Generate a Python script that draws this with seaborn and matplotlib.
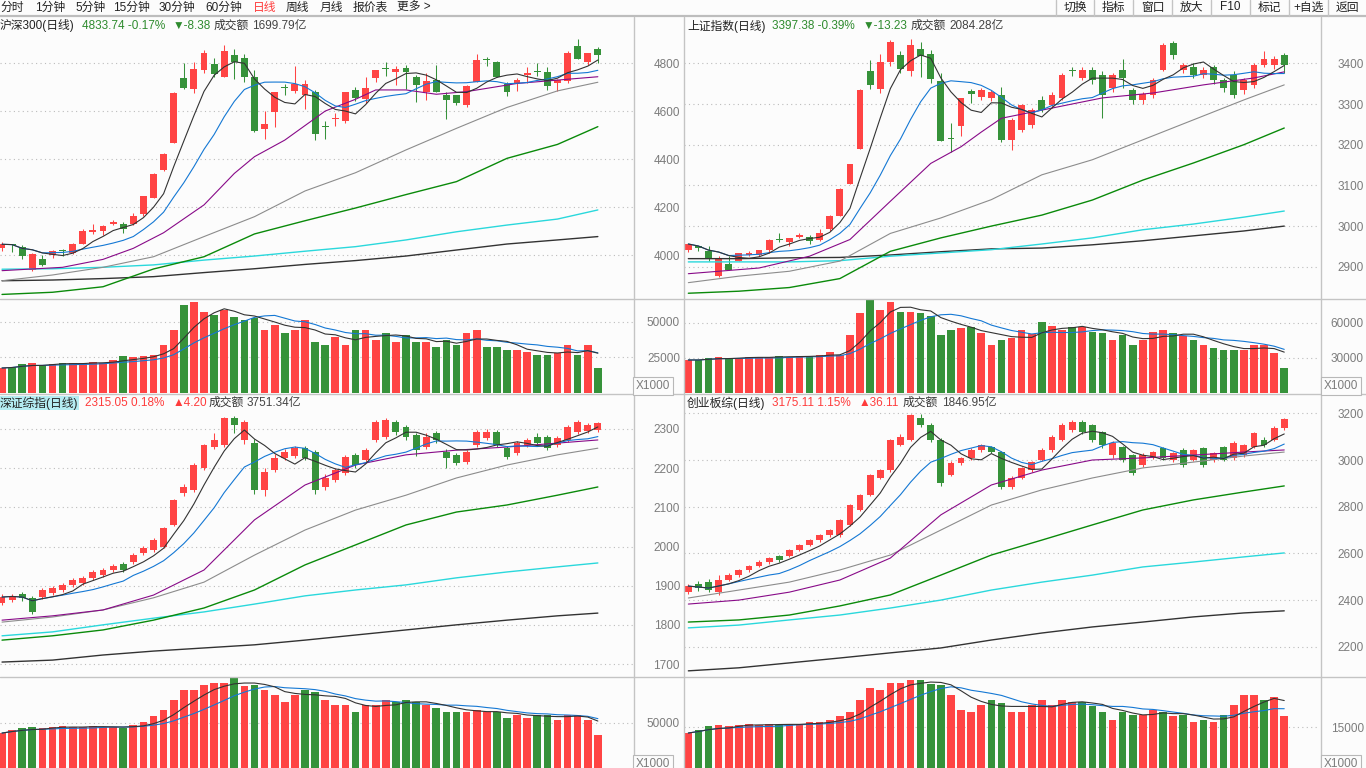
import numpy as np
import pandas as pd
import seaborn as sns
import matplotlib.pyplot as plt
from matplotlib.lines import Line2D

sns.set_theme(style='white')
plt.rcParams['font.family'] = ['Liberation Sans', 'Noto Sans CJK SC', 'DejaVu Sans']

W, H = 1366, 768
BG = '#fcfcfc'
RED = '#ff4444'
GREEN = '#36923a'
TXT_GREEN = '#2e8b2e'
TXT_RED = '#ff3c3c'
LINE = '#c4c4c4'

# ---------------- data ----------------
ma_idx = [0, 5, 10, 15, 20, 25, 30, 35, 40, 45, 50, 55, 59]

# 沪深300
hs300_open = [4029, 4045, 4033, 3939, 3983, 4000, 4020, 4011, 4048, 4096,
              4103, 4130, 4130, 4130, 4171, 4240, 4355, 4469, 4739, 4693,
              4772, 4798, 4744, 4835, 4822, 4743, 4526, 4599, 4697, 4685,
              4668, 4680, 4537, 4569, 4561, 4687, 4653, 4737, 4779, 4765,
              4779, 4744, 4680, 4730, 4666, 4666, 4626, 4724, 4814, 4805,
              4712, 4719, 4751, 4767, 4764, 4719, 4726, 4872, 4805, 4860]
hs300_high = [4057, 4046, 4043, 4011, 4000, 4022, 4026, 4051, 4108, 4130,
              4128, 4147, 4139, 4176, 4249, 4343, 4425, 4680, 4800, 4805,
              4855, 4822, 4876, 4860, 4839, 4772, 4600, 4680, 4712, 4789,
              4730, 4689, 4561, 4592, 4680, 4703, 4744, 4772, 4805, 4789,
              4794, 4751, 4761, 4793, 4680, 4666, 4710, 4839, 4828, 4810,
              4724, 4737, 4786, 4800, 4783, 4733, 4853, 4901, 4842, 4867]
hs300_low = [4019, 4015, 3983, 3935, 3957, 3990, 3997, 4007, 4048, 4089,
             4083, 4126, 4094, 4128, 4165, 4240, 4353, 4469, 4692, 4675,
             4761, 4744, 4744, 4735, 4724, 4515, 4486, 4536, 4667, 4675,
             4611, 4480, 4486, 4539, 4553, 4644, 4633, 4724, 4748, 4710,
             4691, 4640, 4647, 4680, 4569, 4628, 4619, 4724, 4789, 4742,
             4664, 4685, 4716, 4747, 4689, 4683, 4719, 4818, 4792, 4800]
hs300_close = [4046, 4043, 3998, 4005, 3958, 4016, 4018, 4047, 4101, 4105,
               4122, 4140, 4111, 4164, 4247, 4339, 4422, 4675, 4697, 4776,
               4844, 4757, 4851, 4804, 4744, 4518, 4547, 4680, 4695, 4714,
               4714, 4505, 4535, 4571, 4680, 4655, 4697, 4772, 4777, 4776,
               4765, 4710, 4726, 4680, 4647, 4633, 4705, 4814, 4812, 4742,
               4680, 4730, 4758, 4765, 4707, 4730, 4844, 4818, 4842, 4834]
hs300_vol = [17500, 18200, 20300, 21000, 19600, 20300, 21000, 21000, 21000, 21700,
             21000, 23100, 25900, 25200, 25900, 26600, 33600, 44100, 61600, 63700,
             56700, 54600, 58100, 53200, 51100, 52500, 44100, 47600, 42000, 44100,
             51100, 35700, 33600, 39200, 33600, 44100, 44100, 37100, 42000, 35700,
             40600, 35700, 35700, 32200, 37100, 33600, 42000, 44100, 32200, 32200,
             30100, 30100, 28700, 26600, 26600, 28000, 33600, 26600, 33600, 17500]
hs300_ma20_idx = [0, 6, 10, 13, 16, 20, 23, 25, 28, 32, 35, 37, 40, 43, 46, 51, 55, 59]
hs300_ma20 = [3936, 3950, 3983, 4029, 4094, 4210, 4341, 4411, 4480, 4601,
              4650, 4689, 4689, 4671, 4682, 4716, 4730, 4744]
hs300_ma30 = [3894, 3918, 3950, 3994, 4078, 4161, 4268, 4344, 4439, 4529, 4616, 4685, 4721]
hs300_ma60 = [3837, 3846, 3869, 3943, 3994, 4089, 4144, 4197, 4253, 4307, 4404, 4462, 4536]
hs300_ma120 = [3942, 3944, 3950, 3960, 3980, 3997, 4017, 4036, 4064, 4098, 4126, 4151, 4189]
hs300_ma250 = [3894, 3897, 3903, 3911, 3928, 3944, 3962, 3978, 3997, 4022, 4047, 4064, 4078]

# 上证指数
sh_open = [2941, 2952, 2940, 2877, 2908, 2914, 2930, 2930, 2941, 2968,
           2962, 2974, 2973, 2965, 2992, 3024, 3104, 3189, 3381, 3336,
           3402, 3420, 3382, 3434, 3423, 3357, 3215, 3245, 3331, 3317,
           3315, 3322, 3212, 3236, 3249, 3310, 3297, 3315, 3384, 3365,
           3384, 3371, 3340, 3384, 3334, 3310, 3322, 3384, 3450, 3384,
           3390, 3371, 3390, 3359, 3371, 3334, 3347, 3396, 3396, 3420]
sh_high = [2956, 2952, 2952, 2926, 2926, 2933, 2938, 2942, 2969, 2983,
           2971, 2983, 2977, 2992, 3027, 3093, 3153, 3336, 3408, 3423,
           3457, 3431, 3459, 3452, 3433, 3375, 3253, 3314, 3336, 3339,
           3335, 3342, 3266, 3300, 3290, 3320, 3330, 3375, 3390, 3390,
           3392, 3380, 3376, 3410, 3340, 3330, 3365, 3450, 3455, 3400,
           3400, 3390, 3395, 3365, 3380, 3365, 3400, 3430, 3418, 3425]
sh_low = [2936, 2938, 2914, 2875, 2893, 2914, 2926, 2926, 2934, 2961,
          2952, 2971, 2955, 2963, 2988, 3024, 3104, 3189, 3337, 3328,
          3394, 3375, 3370, 3367, 3351, 3210, 3183, 3222, 3302, 3310,
          3308, 3207, 3187, 3230, 3240, 3280, 3290, 3310, 3370, 3360,
          3350, 3266, 3330, 3340, 3300, 3300, 3315, 3380, 3410, 3375,
          3365, 3365, 3350, 3330, 3315, 3325, 3340, 3390, 3385, 3375]
sh_close = [2956, 2946, 2921, 2922, 2893, 2933, 2934, 2941, 2967, 2966,
            2971, 2979, 2964, 2983, 3026, 3091, 3153, 3335, 3347, 3402,
            3452, 3385, 3445, 3418, 3362, 3210, 3214, 3314, 3324, 3334,
            3329, 3212, 3261, 3298, 3285, 3285, 3322, 3371, 3382, 3384,
            3359, 3322, 3371, 3365, 3310, 3324, 3359, 3445, 3420, 3396,
            3371, 3384, 3359, 3340, 3322, 3359, 3396, 3410, 3411, 3397]
sh_vol = [28300, 28300, 30000, 30900, 30000, 30000, 30900, 30900, 30900, 31700,
          30900, 31700, 31700, 32600, 35100, 32600, 49700, 68600, 79700, 71100,
          78000, 69400, 69400, 68600, 66000, 49700, 54000, 55700, 56600, 51400,
          41100, 45400, 47100, 54000, 50600, 60900, 57400, 54000, 56600, 56600,
          52300, 51400, 45400, 49700, 41100, 45400, 52300, 54000, 51400, 48900,
          45400, 41100, 38600, 36900, 36900, 36900, 41100, 41100, 34300, 21700]
sh_ma20_idx = [0, 7, 12, 16, 20, 24, 27, 29, 31, 36, 41, 46, 51, 56, 59]
sh_ma20 = [2883, 2897, 2926, 2967, 3061, 3154, 3195, 3231, 3265, 3290,
           3315, 3327, 3347, 3364, 3379]
sh_ma30 = [2861, 2877, 2889, 2914, 2982, 3020, 3065, 3126, 3163, 3212, 3261, 3310, 3347]
sh_ma60 = [2835, 2840, 2849, 2871, 2938, 2971, 3000, 3027, 3064, 3113, 3155, 3200, 3241]
sh_ma120 = [2912, 2912, 2912, 2915, 2926, 2934, 2942, 2956, 2971, 2991, 3005, 3022, 3037]
sh_ma250 = [2920, 2920, 2922, 2923, 2929, 2937, 2944, 2946, 2954, 2964, 2976, 2988, 3000]

# 深证综指
sz_open = [1856, 1863, 1879, 1868, 1871, 1881, 1889, 1902, 1907, 1920,
           1927, 1940, 1955, 1960, 1983, 1991, 1999, 2055, 2137, 2144,
           2200, 2254, 2259, 2328, 2272, 2264, 2144, 2195, 2226, 2231,
           2251, 2241, 2152, 2170, 2188, 2234, 2221, 2272, 2280, 2318,
           2305, 2285, 2254, 2290, 2241, 2234, 2216, 2259, 2277, 2292,
           2251, 2239, 2259, 2280, 2280, 2259, 2272, 2292, 2295, 2297]
sz_high = [1878, 1880, 1884, 1874, 1894, 1899, 1907, 1920, 1925, 1940,
           1945, 1956, 1960, 1983, 2001, 2022, 2050, 2122, 2160, 2212,
           2262, 2290, 2330, 2333, 2322, 2275, 2200, 2236, 2250, 2256,
           2256, 2246, 2185, 2200, 2234, 2240, 2251, 2322, 2328, 2323,
           2310, 2290, 2290, 2295, 2250, 2240, 2246, 2297, 2300, 2297,
           2256, 2270, 2277, 2290, 2285, 2282, 2310, 2323, 2315, 2318]
sz_low = [1850, 1858, 1860, 1828, 1866, 1876, 1884, 1897, 1902, 1915,
          1922, 1935, 1934, 1955, 1978, 1986, 1996, 2052, 2130, 2140,
          2195, 2250, 2255, 2290, 2262, 2135, 2130, 2190, 2220, 2225,
          2220, 2135, 2145, 2165, 2183, 2200, 2215, 2266, 2275, 2285,
          2272, 2230, 2250, 2265, 2200, 2208, 2210, 2255, 2272, 2254,
          2224, 2234, 2254, 2259, 2246, 2254, 2267, 2288, 2290, 2292]
sz_close = [1871, 1874, 1868, 1833, 1889, 1894, 1902, 1914, 1920, 1935,
            1940, 1950, 1940, 1978, 1996, 2017, 2047, 2119, 2152, 2208,
            2259, 2272, 2328, 2310, 2318, 2144, 2190, 2226, 2241, 2251,
            2226, 2144, 2175, 2195, 2229, 2208, 2246, 2318, 2323, 2292,
            2280, 2246, 2280, 2272, 2226, 2213, 2241, 2292, 2292, 2259,
            2229, 2264, 2272, 2264, 2251, 2277, 2305, 2318, 2311, 2315]
sz_vol = [38600, 41900, 44100, 45200, 44100, 45200, 46300, 45200, 45200, 46300,
          45200, 45200, 44100, 47400, 50700, 57400, 64000, 75000, 86100, 86100,
          91600, 93800, 93800, 99300, 90500, 91600, 86100, 80600, 72800, 80600,
          86100, 83900, 75000, 69500, 69500, 61800, 69500, 69500, 75000, 72800,
          75000, 72800, 69500, 66200, 61800, 61800, 61800, 64000, 61800, 61800,
          55200, 58500, 55200, 58500, 58500, 52900, 58500, 58500, 52900, 36400]
sz_ma20_idx = ma_idx
sz_ma20 = [1812, 1823, 1838, 1876, 1940, 2068, 2157, 2208, 2234, 2246, 2254, 2264, 2272]
sz_ma30 = [1807, 1820, 1838, 1869, 1909, 1978, 2042, 2093, 2131, 2175, 2208, 2234, 2251]
sz_ma60 = [1761, 1772, 1787, 1812, 1843, 1889, 1953, 2004, 2055, 2088, 2106, 2131, 2152]
sz_ma120 = [1772, 1782, 1800, 1817, 1833, 1853, 1874, 1889, 1902, 1920, 1935, 1948, 1958]
sz_ma250 = [1705, 1710, 1723, 1733, 1741, 1749, 1761, 1774, 1787, 1800, 1812, 1823, 1830]

# 创业板综
cy_open = [2434, 2469, 2477, 2434, 2486, 2507, 2529, 2546, 2563, 2589,
           2589, 2615, 2636, 2657, 2679, 2679, 2722, 2786, 2850, 2923,
           2957, 3064, 3086, 3180, 3150, 3086, 2936, 2987, 3009, 3043,
           3056, 3034, 2884, 2923, 2957, 3000, 3043, 3086, 3128, 3163,
           3150, 3120, 3021, 3056, 3021, 2979, 3013, 3051, 3000, 3043,
           3000, 3051, 3000, 3056, 3009, 3021, 3056, 3086, 3086, 3137]
cy_high = [2470, 2480, 2490, 2507, 2515, 2535, 2552, 2570, 2586, 2595,
           2620, 2642, 2663, 2685, 2706, 2748, 2812, 2856, 2941, 2963,
           3090, 3110, 3196, 3196, 3160, 3095, 2995, 3015, 3050, 3070,
           3060, 3040, 2930, 2972, 2997, 3050, 3105, 3160, 3170, 3170,
           3155, 3125, 3080, 3060, 3025, 3028, 3040, 3056, 3035, 3050,
           3048, 3056, 3035, 3060, 3080, 3070, 3120, 3098, 3145, 3180]
cy_low = [2425, 2440, 2435, 2422, 2480, 2500, 2522, 2540, 2556, 2565,
          2583, 2610, 2630, 2650, 2672, 2672, 2716, 2780, 2845, 2918,
          2950, 3058, 3080, 3140, 3075, 2890, 2930, 2980, 3000, 3035,
          3028, 2876, 2876, 2918, 2950, 2995, 3035, 3080, 3120, 3110,
          3075, 3050, 3010, 2990, 2935, 2970, 3005, 3000, 2990, 2970,
          2995, 2970, 2990, 2995, 3000, 3015, 3050, 3056, 3080, 3130]
cy_close = [2460, 2452, 2443, 2486, 2507, 2529, 2546, 2563, 2580, 2572,
            2615, 2636, 2657, 2679, 2700, 2743, 2807, 2850, 2936, 2957,
            3086, 3098, 3193, 3150, 3086, 2901, 2987, 3009, 3043, 3064,
            3034, 2884, 2923, 2966, 2991, 3043, 3098, 3150, 3163, 3120,
            3086, 3064, 3073, 3000, 2945, 3021, 3034, 3009, 3030, 2979,
            3043, 2979, 3030, 3000, 3073, 3064, 3116, 3064, 3139, 3175]
cy_vol = [12900, 14000, 15500, 15900, 15500, 15900, 16200, 15900, 16200, 15900,
          16200, 16200, 17000, 17000, 17700, 19200, 20600, 25100, 29500, 28700,
          31300, 31300, 32400, 32400, 31000, 30600, 26900, 21400, 20600, 23200,
          25100, 24000, 20600, 20600, 23200, 25100, 23200, 25100, 24300, 24300,
          22900, 20600, 17700, 20600, 19500, 19500, 21400, 20600, 19200, 19500,
          16900, 17700, 16900, 19500, 23200, 26900, 26900, 25100, 26200, 19200]
cy_ma20_idx = ma_idx
cy_ma20 = [2383, 2400, 2434, 2486, 2580, 2765, 2893, 2957, 3000, 3009, 3021, 3034, 3043]
cy_ma30 = [2409, 2443, 2477, 2529, 2593, 2700, 2807, 2872, 2923, 2966, 2991, 3017, 3034]
cy_ma60 = [2306, 2315, 2336, 2375, 2422, 2507, 2593, 2657, 2722, 2786, 2829, 2863, 2889]
cy_ma120 = [2281, 2293, 2315, 2336, 2366, 2400, 2443, 2477, 2507, 2542, 2563, 2585, 2602]
cy_ma250 = [2097, 2110, 2131, 2152, 2174, 2195, 2229, 2259, 2285, 2306, 2328, 2345, 2354]

# ---------------- drawing ----------------
fig = plt.figure(figsize=(W / 100, H / 100), dpi=100, facecolor=BG)


def add_ax(px, py, pw, ph):
    return fig.add_axes([px / W, 1 - (py + ph) / H, pw / W, ph / H])


def fig_line(x0, y0, x1, y1, color=LINE, lw=1.0):
    fig.add_artist(Line2D([x0 / W, x1 / W], [1 - y0 / H, 1 - y1 / H],
                          color=color, lw=lw, transform=fig.transFigure))


def ftext(x, y, s, color='#222222', size=8.5, ha='left', **kw):
    fig.text(x / W, 1 - y / H, s, color=color, fontsize=size, ha=ha, va='center', **kw)


def finish_axis(ax, xlim, ylim, ticks, pad_px):
    ax.set_facecolor(BG)
    ax.set_xlim(*xlim)
    ax.set_ylim(*ylim)
    for s in ax.spines.values():
        s.set_visible(False)
    ax.set_xticks([])
    ax.set_xlabel('')
    ax.set_ylabel('')
    ax.yaxis.tick_right()
    ax.set_yticks(ticks)
    ax.set_yticklabels([str(t) for t in ticks])
    ax.tick_params(axis='y', length=0, pad=pad_px * 0.72, labelsize=8.5, labelcolor='#7c7c7c')
    for lab in ax.get_yticklabels():
        lab.set_horizontalalignment('right')
    ax.grid(axis='y', color='#bcbcbc', linestyle=(0, (1, 3)), linewidth=0.8)
    ax.grid(axis='x', visible=False)


def draw_panel(ax_p, ax_v, o, h, l, c, vol, mas, xlim, ylim, vlim):
    o, h, l, c = map(np.asarray, (o, h, l, c))
    x = np.arange(len(o))
    up = c >= o
    cols = np.where(up, RED, GREEN)
    ax_p.set_xlim(*xlim)
    ax_p.set_ylim(*ylim)
    px = (ylim[1] - ylim[0]) / ax_p.bbox.height
    lo = np.minimum(o, c)
    hi = np.maximum(o, c)
    ax_p.vlines(x, l, h, colors=cols, lw=0.75, zorder=2)
    ax_p.bar(x, np.maximum(hi - lo, px), bottom=lo, width=0.68, color=cols,
             linewidth=0, zorder=3)
    # longer moving averages
    for xs, vals, col, lw in mas:
        sns.lineplot(x=xs, y=vals, ax=ax_p, color=col, lw=lw, zorder=4)
    # short moving averages from the closes
    close = pd.Series(c)
    sns.lineplot(x=x, y=close.rolling(10, min_periods=1).mean(), ax=ax_p,
                 color='#1478d4', lw=0.8, zorder=5)
    sns.lineplot(x=x, y=close.rolling(5, min_periods=1).mean(), ax=ax_p,
                 color='#333333', lw=0.8, zorder=6)

    v = pd.Series(vol)
    ax_v.set_xlim(*xlim)
    ax_v.set_ylim(*vlim)
    ax_v.bar(x, vol, width=0.76, color=cols, linewidth=0, zorder=2)
    sns.lineplot(x=x, y=v.rolling(10, min_periods=1).mean(), ax=ax_v,
                 color='#1478d4', lw=0.8, zorder=3)
    sns.lineplot(x=x, y=v.rolling(5, min_periods=1).mean(), ax=ax_v,
                 color='#333333', lw=0.8, zorder=4)


def ma_set(ma20_idx, ma20, ma30, ma60, ma120, ma250):
    return [(ma_idx, ma250, '#333333', 1.0), (ma_idx, ma120, '#2ad8dc', 1.0),
            (ma_idx, ma60, '#0a8a0a', 1.0), (ma_idx, ma30, '#8c8c8c', 0.8),
            (ma20_idx, ma20, '#880a88', 0.8)]


XL_L = (-0.2, 62.48)
XL_R = (-0.43, 62.54)

# top-left 沪深300
a1 = add_ax(0, 17, 633, 281)
v1 = add_ax(0, 299, 633, 94)
lim1 = (3822.1, 4992.9)
vl1 = (0, 94 * 700)
draw_panel(a1, v1, hs300_open, hs300_high, hs300_low, hs300_close, hs300_vol,
           ma_set(hs300_ma20_idx, hs300_ma20, hs300_ma30, hs300_ma60, hs300_ma120, hs300_ma250),
           XL_L, lim1, vl1)
finish_axis(a1, XL_L, lim1, [4000, 4200, 4400, 4600, 4800], 47)
finish_axis(v1, XL_L, vl1, [25000, 50000], 47)

# top-right 上证指数
a2 = add_ax(684, 17, 636, 281)
v2 = add_ax(684, 299, 636, 94)
lim2 = (2823.3, 3513.8)
vl2 = (0, 94 * 857)
draw_panel(a2, v2, sh_open, sh_high, sh_low, sh_close, sh_vol,
           ma_set(sh_ma20_idx, sh_ma20, sh_ma30, sh_ma60, sh_ma120, sh_ma250),
           XL_R, lim2, vl2)
finish_axis(a2, XL_R, lim2, [2900, 3000, 3100, 3200, 3300, 3400], 44)
finish_axis(v2, XL_R, vl2, [30000, 60000], 44)

# bottom-left 深证综指
a3 = add_ax(0, 395, 633, 281)
v3 = add_ax(0, 677, 633, 91)
lim3 = (1669.4, 2386.8)
vl3 = (0, 91 * 1104)
draw_panel(a3, v3, sz_open, sz_high, sz_low, sz_close, sz_vol,
           ma_set(sz_ma20_idx, sz_ma20, sz_ma30, sz_ma60, sz_ma120, sz_ma250),
           XL_L, lim3, vl3)
finish_axis(a3, XL_L, lim3, [1700, 1800, 1900, 2000, 2100, 2200, 2300], 47)
finish_axis(v3, XL_L, vl3, [50000], 47)

# bottom-right 创业板综
a4 = add_ax(684, 395, 636, 281)
v4 = add_ax(684, 677, 636, 91)
lim4 = (2074.9, 3278.4)
vl4 = (0, 91 * 368.6)
draw_panel(a4, v4, cy_open, cy_high, cy_low, cy_close, cy_vol,
           ma_set(cy_ma20_idx, cy_ma20, cy_ma30, cy_ma60, cy_ma120, cy_ma250),
           XL_R, lim4, vl4)
finish_axis(a4, XL_R, lim4, [2200, 2400, 2600, 2800, 3000, 3200], 44)
finish_axis(v4, XL_R, vl4, [15000], 44)

# ---------------- frame lines ----------------
fig_line(0, 16, W, 16, color='#bdbdbd', lw=1.6)
for xx in (633.5, 683.5, 1320.5):
    fig_line(xx, 17, xx, H)
for yy in (298.5, 394, 676.5):
    fig_line(0, yy, W, yy)
for xx in (1056, 1094, 1133, 1172, 1211, 1250, 1289, 1328):
    fig_line(xx, 0, xx, 16)

# toolbar
left_items = [('分时', 0), ('1分钟', 35), ('5分钟', 75), ('15分钟', 113), ('30分钟', 159),
              ('60分钟', 205), ('日线', 253), ('周线', 286), ('月线', 320),
              ('报价表', 353), ('更多 >', 397)]
for s, xx in left_items:
    ftext(xx, 7.5, s, color=TXT_RED if s == '日线' else '#222222', size=8.5)
right_items = [('切换', 1075), ('指标', 1113.5), ('窗口', 1152.5), ('放大', 1191.5),
               ('F10', 1230.5), ('标记', 1269.5), ('+自选', 1308.5), ('返回', 1347)]
for s, xx in right_items:
    ftext(xx, 7.5, s, size=8.5, ha='center')

# panel titles
ftext(0, 26, '沪深300(日线)')
ftext(82, 26, '4833.74 -0.17%', color=TXT_GREEN)
ftext(173, 26, '▼-8.38', color=TXT_GREEN)
ftext(214, 26, '成交额', color='#333333')
ftext(252, 26, '1699.79亿', color='#444444')

ftext(687, 26, '上证指数(日线)')
ftext(772, 26, '3397.38 -0.39%', color=TXT_GREEN)
ftext(863, 26, '▼-13.23', color=TXT_GREEN)
ftext(911, 26, '成交额', color='#333333')
ftext(949, 26, '2084.28亿', color='#444444')

ftext(0, 403, '深证综指(日线)', bbox=dict(facecolor='#b4ecf2', edgecolor='none', pad=0.6))
ftext(85, 403, '2315.05 0.18%', color=TXT_RED)
ftext(173, 403, '▲4.20', color=TXT_RED)
ftext(209, 403, '成交额', color='#333333')
ftext(247, 403, '3751.34亿', color='#444444')

ftext(687, 403, '创业板综(日线)')
ftext(772, 403, '3175.11 1.15%', color=TXT_RED)
ftext(859, 403, '▲36.11', color=TXT_RED)
ftext(903, 403, '成交额', color='#333333')
ftext(942, 403, '1846.95亿', color='#444444')

# X1000 boxes
box = dict(facecolor=BG, edgecolor='#b8b8b8', boxstyle='square,pad=0.25', lw=0.8)
for xx, yy in ((653, 386), (1341, 386), (653, 764), (1341, 764)):
    ftext(xx, yy, 'X1000', color='#7c7c7c', size=8.5, ha='center', bbox=box)

fig.savefig('out.png', dpi=100, facecolor=BG)
